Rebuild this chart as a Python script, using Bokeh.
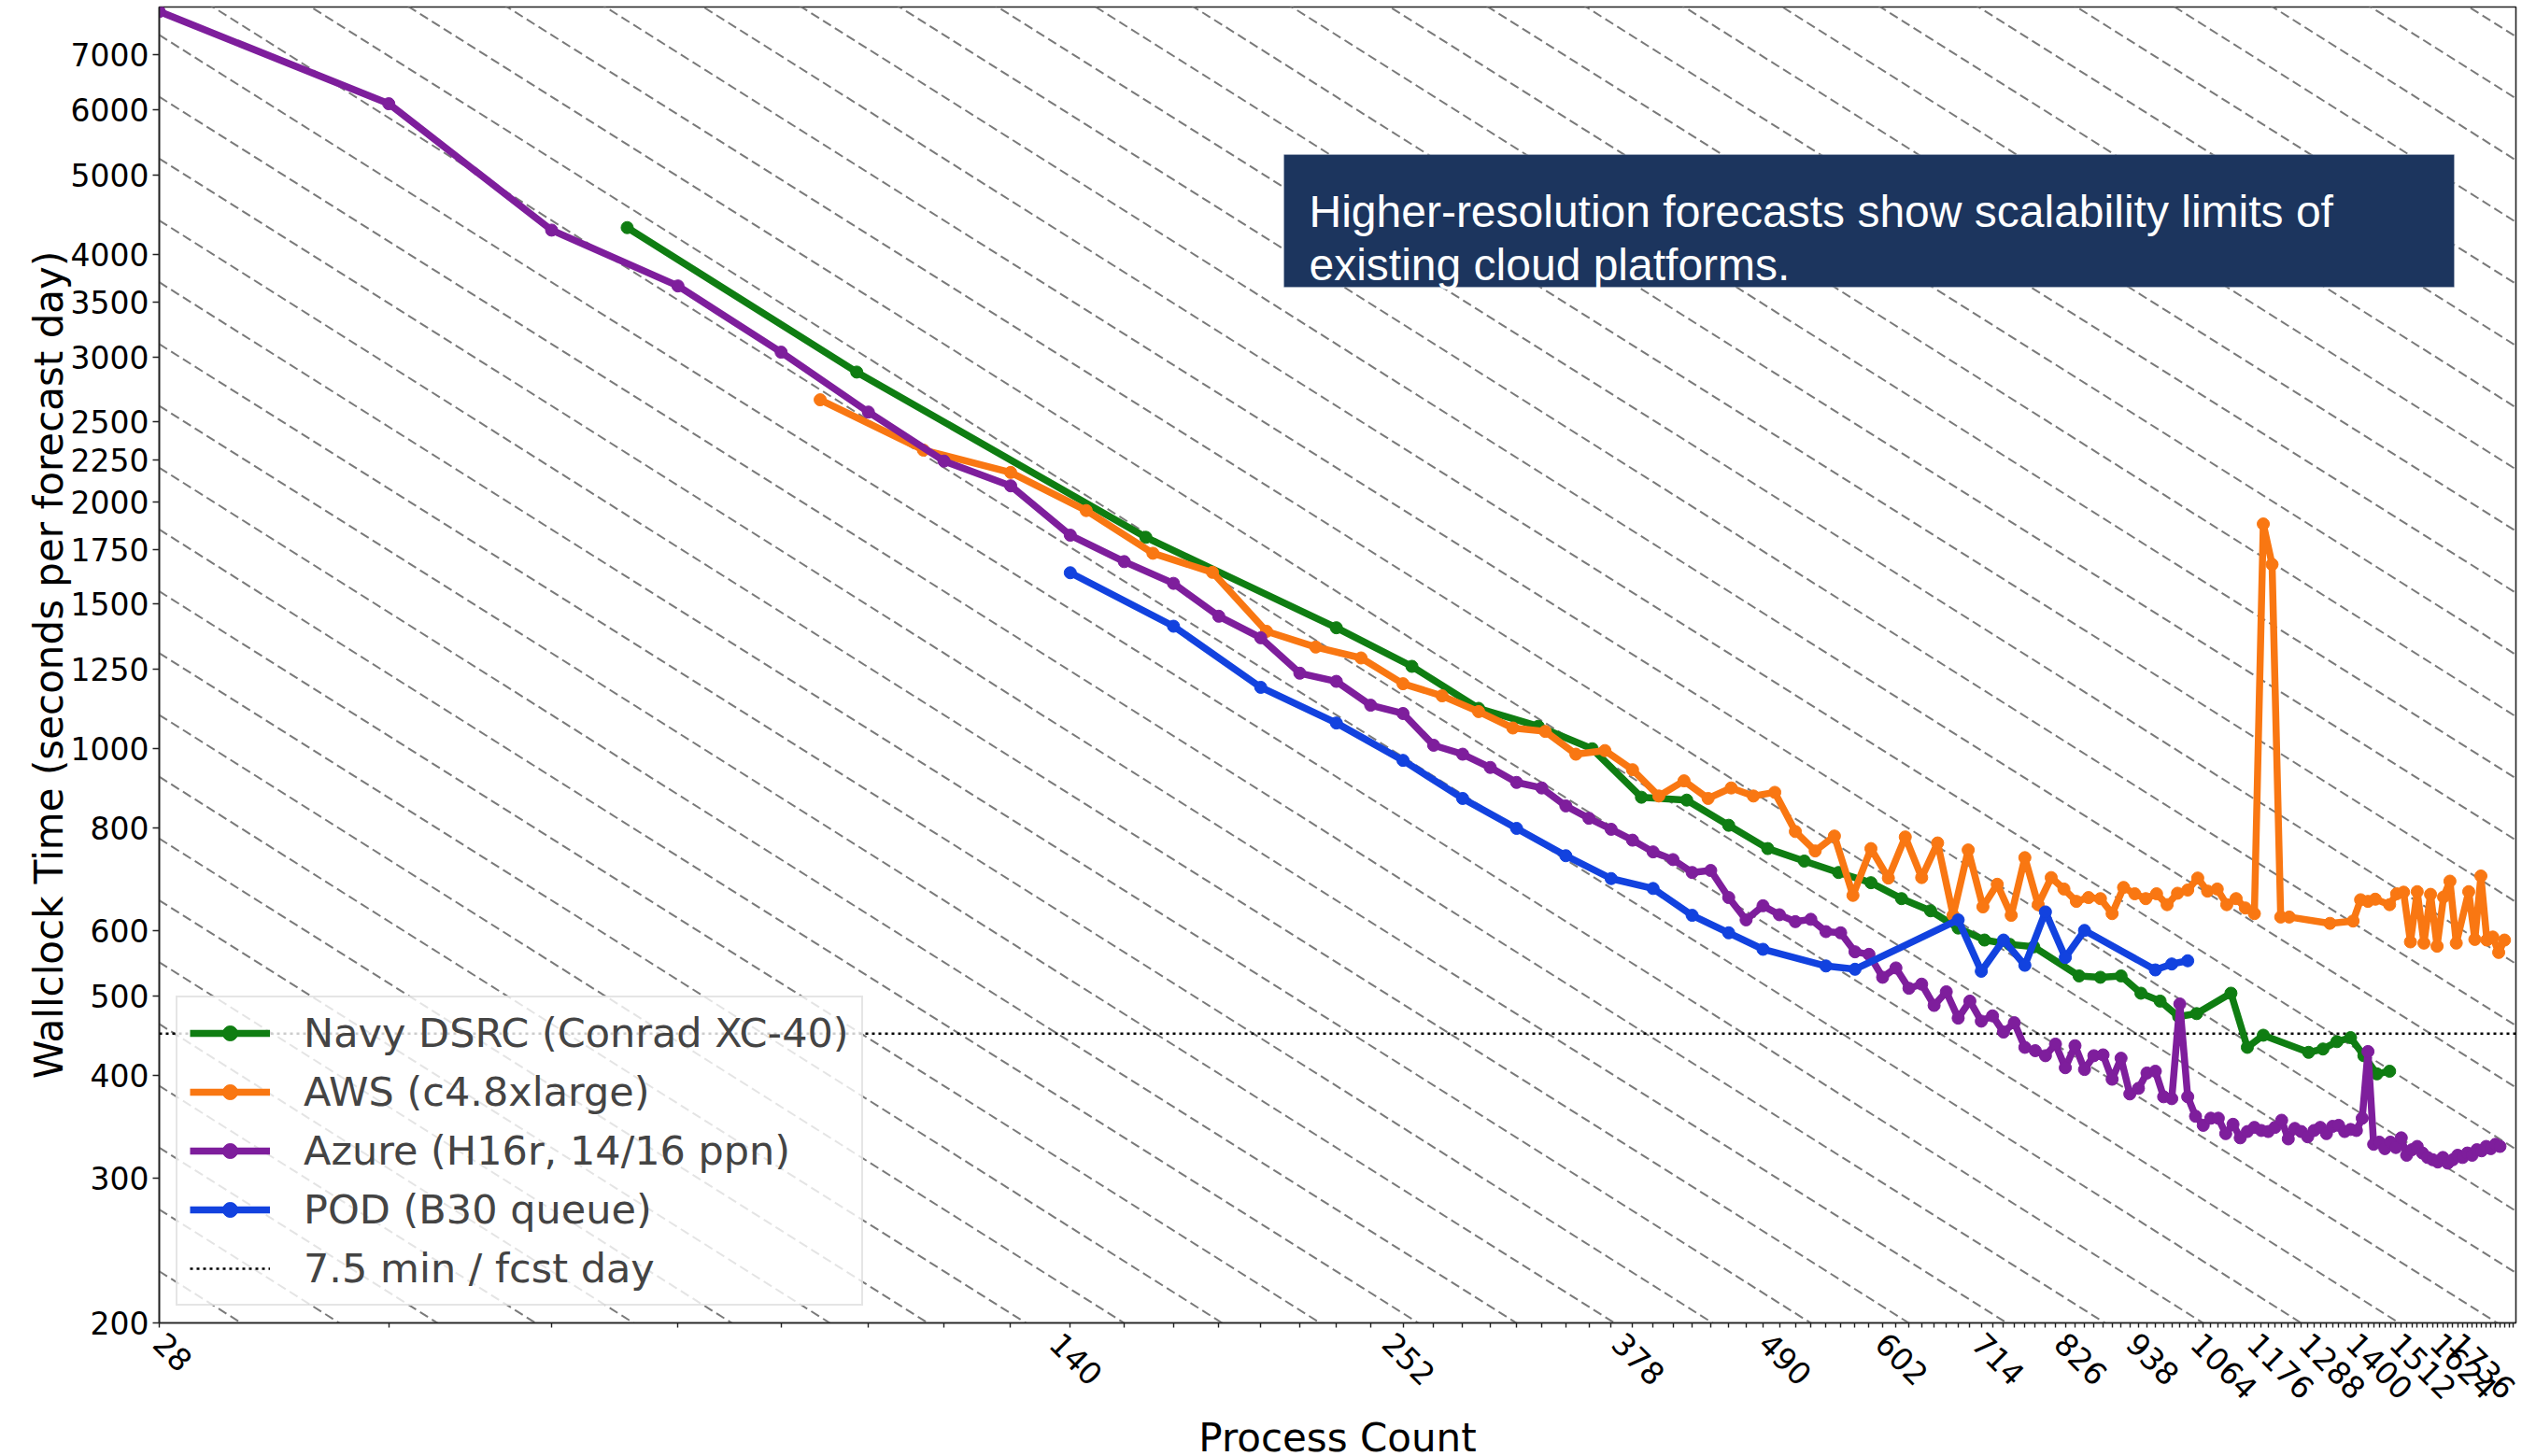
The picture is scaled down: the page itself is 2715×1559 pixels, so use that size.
import math
from bokeh.plotting import figure
from bokeh.models import (FixedTicker, Legend, LegendItem, BoxAnnotation, Label, Range1d,
                          CustomJSTickFormatter)
from bokeh.embed import file_html
from bokeh.resources import INLINE

# ---------------- data ----------------
x_tick_values = [28, 140, 252, 378, 490, 602, 714, 826, 938, 1064, 1176, 1288, 1400, 1512, 1624, 1736]
x_tick_labels = ["28", "140", "252", "378", "490", "602", "714", "826", "938", "1064", "1176", "1288",
                 "1400", "1512", "1624", "1736"]
y_tick_values = [200, 300, 400, 500, 600, 800, 1000, 1250, 1500, 1750, 2000, 2250, 2500, 3000, 3500,
                 4000, 5000, 6000, 7000]
y_tick_labels = [str(v) for v in y_tick_values]

navy_x = [64, 96, 160, 224, 256, 288, 320, 352, 384, 416, 448, 480, 512, 544, 576, 608, 640, 672, 704,
          736, 768, 832, 864, 896, 928, 960, 992, 1024, 1088, 1120, 1152, 1248, 1280, 1312, 1344, 1376,
          1408, 1440]
navy_y = [4310, 2875, 1809, 1404, 1260, 1120, 1065, 1000, 873, 866, 807, 756, 730, 707, 687, 657, 635,
          605, 585, 578, 574, 529, 527, 529, 504, 493, 472, 476, 504, 433, 448, 427, 431, 440, 445, 423,
          402, 405]

aws_x = [90, 108, 126, 144, 162, 180, 198, 216, 234, 252, 270, 288, 306, 324, 342, 360, 378, 396, 414,
         432, 450, 468, 486, 504, 522, 540, 558, 576, 594, 612, 630, 648, 666, 684, 702, 720, 738, 756,
         774, 792, 810, 828, 846, 864, 882, 900, 918, 936, 954, 972, 990, 1008, 1026, 1044, 1062, 1080,
         1098, 1116, 1134, 1152, 1170, 1188, 1206, 1296, 1350, 1368, 1386, 1404, 1440, 1458, 1476, 1494,
         1512, 1530, 1548, 1566, 1584, 1602, 1620, 1656, 1674, 1692, 1710, 1728, 1746, 1764]
aws_y = [2660, 2310, 2170, 1950, 1730, 1640, 1390, 1330, 1290, 1200, 1160, 1110, 1060, 1050, 985, 995,
         943, 876, 914, 870, 896, 876, 885, 793, 751, 783, 663, 756, 696, 781, 697, 768, 627, 753, 642,
         684, 627, 737, 646, 697, 675, 652, 659, 657, 630, 678, 666, 657, 666, 646, 667, 673, 696, 671,
         675, 646, 657, 640, 630, 1878, 1677, 624, 624, 613, 617, 655, 652, 656, 646, 666, 669, 582,
         670, 580, 665, 575, 660, 690, 580, 670, 586, 700, 585, 590, 565, 585]

azure_x = [28, 42, 56, 70, 84, 98, 112, 126, 140, 154, 168, 182, 196, 210, 224, 238, 252, 266, 280, 294,
           308, 322, 336, 350, 364, 378, 392, 406, 420, 434, 448, 462, 476, 490, 504, 518, 532, 546, 560,
           574, 588, 602, 616, 630, 644, 658, 672, 686, 700, 714, 728, 742, 756, 770, 784, 798, 812, 826,
           840, 854, 868, 882, 896, 910, 924, 938, 952, 966, 980, 994, 1008, 1022, 1036, 1050, 1064, 1078,
           1092, 1106, 1120, 1134, 1148, 1162, 1176, 1190, 1204, 1218, 1232, 1246, 1260, 1274, 1288, 1302,
           1316, 1330, 1344, 1358, 1372, 1386, 1400, 1414, 1428, 1442, 1456, 1470, 1484, 1498, 1512, 1526,
           1540, 1554, 1568, 1582, 1596, 1610, 1624, 1638, 1652, 1666, 1680, 1694, 1708, 1722, 1736, 1750]
azure_y = [7900, 6100, 4280, 3660, 3040, 2570, 2240, 2090, 1820, 1690, 1590, 1450, 1365, 1236, 1208, 1130,
           1104, 1010, 985, 949, 910, 896, 852, 823, 798, 774, 749, 733, 707, 711, 659, 619, 644, 628, 616,
           620, 599, 597, 566, 562, 527, 541, 511, 517, 487, 506, 470, 493, 466, 473, 452, 464, 433, 429,
           423, 437, 409, 435, 407, 423, 424, 396, 420, 380, 386, 403, 405, 377, 375, 489, 377, 357, 348,
           355, 355, 340, 349, 336, 342, 346, 343, 342, 346, 353, 335, 345, 342, 337, 343, 346, 340, 347,
           348, 342, 344, 343, 355, 428, 330, 332, 326, 332, 327, 336, 320, 325, 328, 322, 318, 316, 314,
           318, 313, 316, 320, 318, 322, 320, 325, 324, 328, 326, 330, 328]

pod_x = [140, 168, 196, 224, 252, 280, 308, 336, 364, 392, 420, 448, 476, 532, 560, 672, 700, 728, 756,
         784, 812, 840, 952, 980, 1008]
pod_y = [1638, 1410, 1188, 1075, 968, 870, 800, 741, 695, 676, 627, 597, 570, 544, 539, 619, 536, 585,
         545, 633, 557, 601, 538, 547, 552]

threshold_seconds = 450  # 7.5 min per forecast day

series_names = ["Navy DSRC (Conrad XC-40)", "AWS (c4.8xlarge)", "Azure (H16r, 14/16 ppn)", "POD (B30 queue)"]
series_colors = ["#0f7d12", "#f97712", "#7e1e9c", "#1242df"]
threshold_name = "7.5 min / fcst day"

annotation_lines = ["Higher-resolution forecasts show scalability limits of", "existing cloud platforms."]
x_axis_title = "Process Count"
y_axis_title = "Wallclock Time (seconds per forecast day)"

x_range = (28, 1800)
y_range = (200, 8000)

# ideal-scaling guide constants: time * procs = 2^(k/4 + 0.16)
guide_exponents = [k / 4 + 0.16 for k in range(44, 100)]

# ---------------- figure ----------------
FONT = "DejaVu Sans"
FRAME_W, FRAME_H = 2523, 1409
BORDER_RIGHT = 22
p = figure(x_axis_type="log", y_axis_type="log",
           x_range=Range1d(*x_range), y_range=Range1d(*y_range),
           frame_width=FRAME_W, frame_height=FRAME_H,
           min_border_left=170, min_border_right=BORDER_RIGHT, min_border_top=7, min_border_bottom=130,
           output_backend="svg", toolbar_location=None)
p.background_fill_color = "white"
p.border_fill_color = "white"
p.outline_line_color = "#222222"
p.outline_line_width = 1.6
p.grid.visible = False

# guide lines
gx, gy = [], []
for e in guide_exponents:
    c = 2 ** e
    gx.append([x_range[0], x_range[1]])
    gy.append([c / x_range[0], c / x_range[1]])
p.multi_line(gx, gy, line_color="#7a7a7a", line_width=2, line_dash="10 5")

# threshold
thr = p.line(list(x_range), [threshold_seconds, threshold_seconds], line_color="black",
             line_width=2.6, line_dash="3 4")

items = []
for xs, ys, name, col in [(navy_x, navy_y, series_names[0], series_colors[0]),
                          (aws_x, aws_y, series_names[1], series_colors[1]),
                          (azure_x, azure_y, series_names[2], series_colors[2]),
                          (pod_x, pod_y, series_names[3], series_colors[3])]:
    lr = p.line(xs, ys, line_color=col, line_width=7.5, line_join="round")
    sr = p.scatter(xs, ys, size=13, fill_color=col, line_color=col)
    items.append(LegendItem(label=name, renderers=[lr, sr]))
items.append(LegendItem(label=threshold_name, renderers=[thr]))

legend = Legend(items=items, location="bottom_left", margin=18,
                label_text_font=FONT, label_text_font_size="43px",
                glyph_width=86, glyph_height=40, label_standoff=36,
                padding=13, spacing=13,
                background_fill_color="white", background_fill_alpha=0.8,
                border_line_color="#cccccc", border_line_width=2)
p.add_layout(legend, "center")

# annotation box (screen units relative to frame)
box = BoxAnnotation(left=1204, right=2457, top=1251, bottom=1109,
                    left_units="screen", right_units="screen", top_units="screen", bottom_units="screen",
                    fill_color="#1c355e", fill_alpha=1.0, line_color="#c8d0dc", line_width=1)
p.add_layout(box)
for i, t in enumerate(annotation_lines):
    p.add_layout(Label(x=1231, y=1190 - 57 * i, x_units="screen", y_units="screen", text=t,
                       text_color="white", text_font="Liberation Sans", text_font_size="48px",
                       text_baseline="alphabetic", text_align="left"))

# x axis: tick marks at every 14 (minor), labels rotated and nudged left so they sit
# centred under their tick like the original (the first one stays on the axis start,
# the last ones are kept inside the canvas)
px_per_decade = FRAME_W / math.log10(x_range[1] / x_range[0])
label_map = {}
label_positions = []
for v, s in zip(x_tick_values, x_tick_labels):
    w = 20.99 * len(s)
    shift_px = 0.7071 * (w - 30) / 2 + 4 if v > x_range[0] else 0
    tick_px = px_per_decade * math.log10(v / x_range[0])
    overflow = (tick_px - shift_px + 0.7071 * w + 6) - (FRAME_W + BORDER_RIGHT - 22)
    if overflow > 0:
        shift_px += overflow
    pos = v * 10 ** (-shift_px / px_per_decade)
    label_positions.append(pos)
    label_map[f"{pos:.3f}"] = s

p.xaxis.ticker = FixedTicker(ticks=label_positions, minor_ticks=list(range(28, 1800, 14)))
p.xaxis.formatter = CustomJSTickFormatter(args=dict(labels=label_map),
                                          code="const k = tick.toFixed(3); return (k in labels) ? labels[k] : '';")
p.xaxis.major_label_orientation = -math.pi / 4
p.xaxis.major_tick_out = 0
p.xaxis.major_tick_in = 0
p.xaxis.minor_tick_out = 5
p.xaxis.minor_tick_in = 0
p.xaxis.major_label_standoff = 11
p.xaxis.axis_label_standoff = 2

p.yaxis.ticker = FixedTicker(ticks=y_tick_values, minor_ticks=[])
p.yaxis.major_label_overrides = {v: s for v, s in zip(y_tick_values, y_tick_labels)}
p.yaxis.major_tick_out = 7
p.yaxis.major_tick_in = 0
p.yaxis.major_label_standoff = 4
p.yaxis.axis_label_standoff = -4

for ax in (p.xaxis, p.yaxis):
    ax.axis_line_color = "#222222"
    ax.axis_line_width = 1.6
    ax.major_tick_line_color = "#222222"
    ax.minor_tick_line_color = "#222222"
    ax.major_tick_line_width = 1.6
    ax.minor_tick_line_width = 1.4
    ax.major_label_text_color = "black"
    ax.axis_label_text_color = "black"
    ax.major_label_text_font = FONT
    ax.major_label_text_font_size = "33px"
    ax.axis_label_text_font = FONT
    ax.axis_label_text_font_size = "42px"
    ax.axis_label_text_font_style = "normal"

p.xaxis.axis_label = x_axis_title
p.yaxis.axis_label = y_axis_title

open("out.html", "w").write(file_html(p, INLINE))
